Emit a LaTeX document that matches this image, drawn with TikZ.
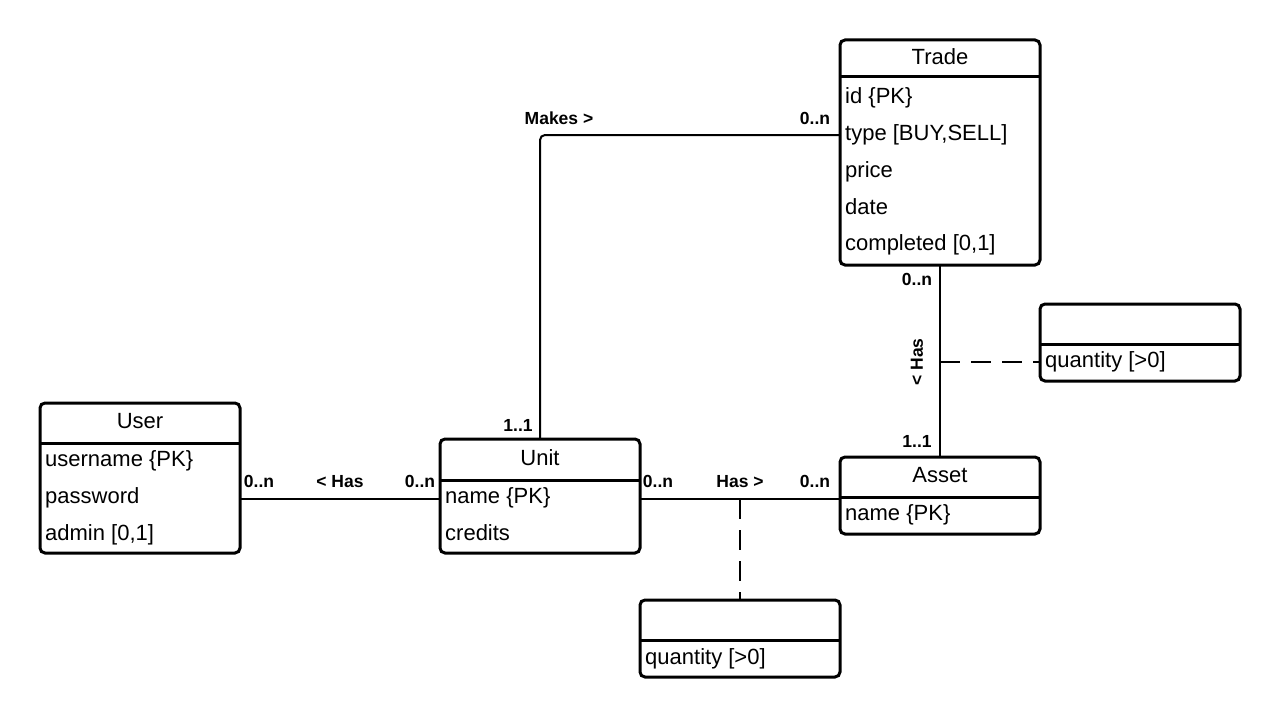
\documentclass[tikz,border=0pt]{standalone}
\usepackage{fontspec}
\setmainfont{Liberation Sans}
\begin{document}
\begin{tikzpicture}[x=1pt,y=-1pt,
  ent/.style={draw, line width=3pt, rounded corners=5pt, anchor=north west, inner sep=0pt, outer sep=0pt, minimum width=200pt},
  div/.style={line width=3pt},
  attr/.style={anchor=base west, inner sep=0pt, font=\fontsize{22}{26}\selectfont},
  ttl/.style={anchor=base, inner sep=0pt, font=\fontsize{22}{26}\selectfont},
  lbl/.style={anchor=base, inner sep=0pt, font=\fontsize{17.5}{20}\selectfont\bfseries},
  conn/.style={line width=2pt},
  dsh/.style={line width=2pt, dash pattern=on 20pt off 11pt}]
\useasboundingbox (0,0) rectangle (1280,717);
% entities
\node[ent, minimum height=225pt] (trade) at (840,40) {};
\node[ent, minimum height=150pt] (user) at (40,403) {};
\node[ent, minimum height=114pt] (unit) at (440,439) {};
\node[ent, minimum height=77pt] (asset) at (840,457) {};
\node[ent, minimum height=77pt] (q1) at (640,600) {};
\node[ent, minimum height=77pt] (q2) at (1040,304) {};
% dividers
\draw[div] (trade.west |- 0,77) -- (trade.east |- 0,77);
\draw[div] (user.west |- 0,443) -- (user.east |- 0,443);
\draw[div] (unit.west |- 0,480) -- (unit.east |- 0,480);
\draw[div] (asset.west |- 0,497) -- (asset.east |- 0,497);
\draw[div] (q1.west |- 0,640) -- (q1.east |- 0,640);
\draw[div] (q2.west |- 0,344) -- (q2.east |- 0,344);
% titles
\node[ttl] (tradeT) at (940,65) {Trade};
\node[ttl] (userT) at (140,428) {User};
\node[ttl] (unitT) at (540,465) {Unit};
\node[ttl] (assetT) at (940,482) {Asset};
% attributes
\node[attr] (t1) at (845,103) {id \{PK\}};
\node[attr] (t2) at (845,140) {type [BUY,SELL]};
\node[attr] (t3) at (845,177) {price};
\node[attr] (t4) at (845,214) {date};
\node[attr] (t5) at (845,250) {completed [0,1]};
\node[attr] (u1) at (45,466) {username \{PK\}};
\node[attr] (u2) at (45,503) {password};
\node[attr] (u3) at (45,540) {admin [0,1]};
\node[attr] (n1) at (445,503) {name \{PK\}};
\node[attr] (n2) at (445,540) {credits};
\node[attr] (a1) at (845,520) {name \{PK\}};
\node[attr] (q1a) at (645,664) {quantity [>0]};
\node[attr] (q2a) at (1045,367) {quantity [>0]};
% connectors
\draw[conn] (user.east |- 0,499) -- (unit.west |- 0,499);
\draw[conn] (unit.east |- 0,499) -- (asset.west |- 0,499);
\draw[conn, rounded corners=5pt] (unit.north) -- (unit.north |- 0,135) -- (trade.west |- 0,135);
\draw[conn] (trade.south) -- (asset.north);
\coordinate (m1) at (740,499);
\coordinate (m2) at (940,362);
\draw[dsh] (m1) -- (q1.north);
\draw[dsh] (m2) -- (q2.west |- m2);
% labels
\node[lbl] (l1) at (259,487) {0..n};
\node[lbl] (l2) at (340,487) {< Has};
\node[lbl] (l3) at (420,487) {0..n};
\node[lbl] (l4) at (658,487) {0..n};
\node[lbl] (l5) at (740,487) {Has >};
\node[lbl] (l6) at (815,487) {0..n};
\node[lbl] (l7) at (559,124) {Makes >};
\node[lbl] (l8) at (815,124) {0..n};
\node[lbl] (l9) at (518,431) {1..1};
\node[lbl] (l10) at (917,285) {0..n};
\node[lbl] (l11) at (917,447) {1..1};
\node[lbl, anchor=center, rotate=90] (l12) at (917,362) {< Has};
\end{tikzpicture}
\end{document}
